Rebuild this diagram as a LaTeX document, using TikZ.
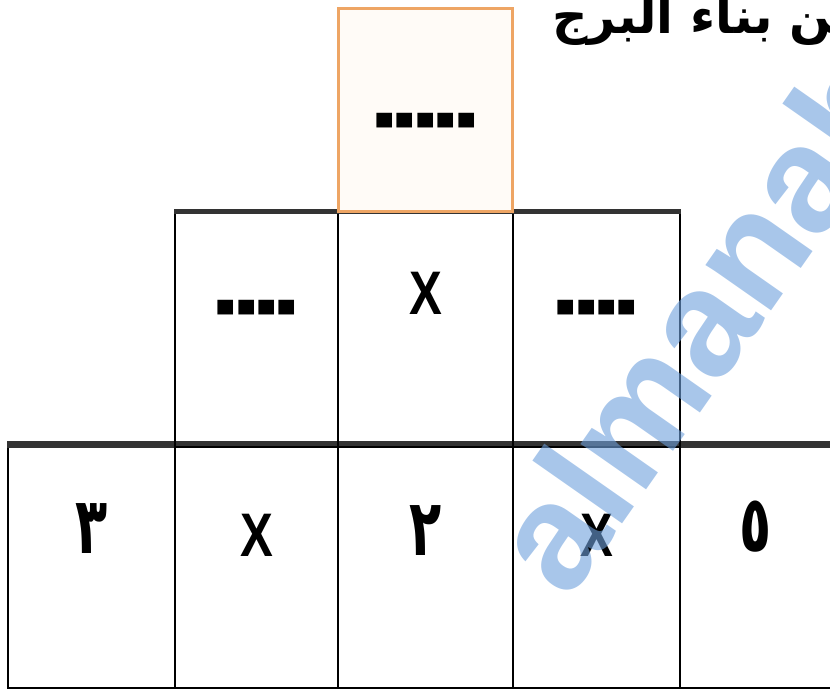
\documentclass[tikz,border=0pt]{standalone}
\usepackage{fontspec}
\setmainfont{Liberation Sans}
\newfontfamily\arabicfont[Script=Arabic]{DejaVu Sans}
\TeXXeTstate=1
\usepackage{tikz}
\definecolor{TopOrange}{RGB}{238,165,100}
\definecolor{MarkBlue}{RGB}{110,160,220}
\tikzset{
cell/.style={draw=black, line width=0.4mm, inner sep=0pt},
lbl/.style={font=\fontsize{35}{40}\selectfont\bfseries},
digit/.style={font=\arabicfont\bfseries\fontsize{40}{46}\selectfont},
}
% bold bars, a narrow X and narrow digits, as in the worksheet
\newcommand{\bars}[1]{\scalebox{1}[2]{#1}}
\newcommand{\ex}{\scalebox{0.8}[1]{X}}
\newcommand{\dig}[1]{\scalebox{0.75}[1.12]{\beginR #1\endR}}

\begin{document}
\begin{tikzpicture}[
  x=0.02cm, y=-0.02cm,
  brow/.style={cell, minimum height=4.86cm},
  mrow/.style={cell, minimum height=4.7cm},
  topcell/.style={cell, draw=TopOrange, line width=0.6mm, fill=orange!3,
                  minimum width=3.5cm, minimum height=4.08cm},
  rowtop/.style={line width=1mm, draw=black!80},
  wmark/.style={font=\fontsize{86}{90}\selectfont\bfseries, text=MarkBlue,
                text opacity=0.6, inner sep=0pt},
]
\useasboundingbox (0,0) rectangle (830,691);
\clip (0,0) rectangle (830,691);

%% ---- bottom row (five cells, the last one runs off the page) ----
\node[brow, minimum width=3.34cm, label={[digit, yshift=0.76cm]center:\dig{٣}}] (b1) at (91.5,566.5) {};
\node[brow, minimum width=3.26cm, label={[lbl, yshift=0.63cm]center:\ex}] (b2) at (256.5,566.5) {};
\node[brow, minimum width=3.5cm, label={[digit, yshift=0.72cm]center:\dig{٢}}] (b3) at (425.5,566.5) {};
\node[brow, minimum width=3.34cm, label={[lbl, yshift=0.63cm]center:\ex}] (b4) at (596.5,566.5) {};
\node[brow, minimum width=3.04cm, label={[digit, yshift=0.79cm]center:\dig{٥}}] (b5) at (756,566.5) {};
\draw[rowtop, line width=1.4mm] (b1.north west) -- (b5.north east);

%% ---- middle row ----
\node[mrow, minimum width=3.26cm, label={[lbl, yshift=0.2cm]center:\bars{-{}-{}-{}-}}] (m1) at (256.5,329.5) {};
\node[mrow, minimum width=3.5cm, label={[lbl, yshift=0.73cm]center:\ex}] (m2) at (425.5,329.5) {};
\node[mrow, minimum width=3.34cm, label={[lbl, yshift=0.2cm]center:\bars{-{}-{}-{}-}}] (m3) at (596.5,329.5) {};
\draw[rowtop] (m1.north west) -- (m3.north east);

%% ---- top cell ----
\node[topcell, label={[lbl, yshift=-0.46cm]center:\bars{-{}-{}-{}-{}-}}] (t) at (425.5,110) {};

%% heading, cut off by the page edge
\node[anchor=base east, inner sep=0pt,
      font=\arabicfont\bfseries\fontsize{28}{32}\selectfont] (hdr) at (865,33)
  {\beginR من بناء البرج\endR};

%% watermark
\node[wmark, rotate=55, anchor=base west] (wm) at (568,602) {almanahj};
\end{tikzpicture}
\end{document}
